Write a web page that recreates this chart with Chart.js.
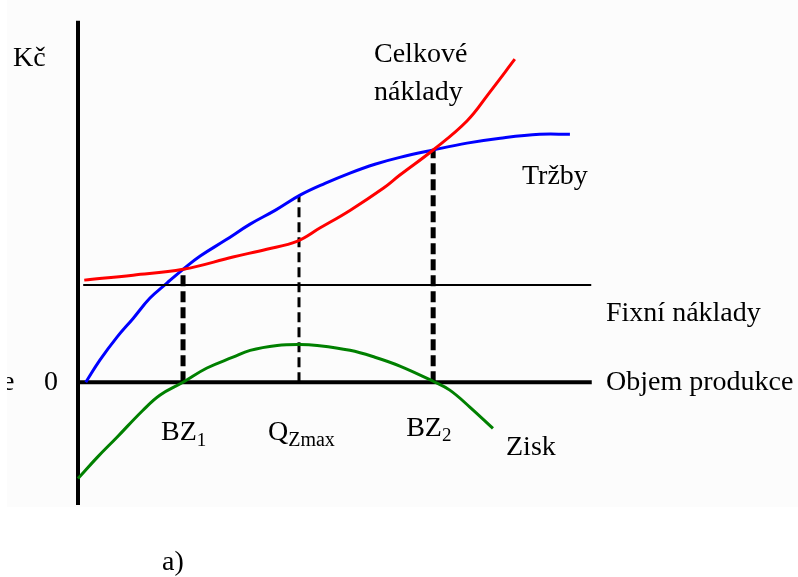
<!DOCTYPE html>
<html>
<head>
<meta charset="utf-8">
<script src="https://cdn.jsdelivr.net/npm/chart.js@4/dist/chart.umd.min.js"></script>
<style>
  html, body { margin: 0; padding: 0; background: #ffffff; }
  #wrap { width: 798px; height: 577px; }
  canvas { display: block; }
</style>
</head>
<body>
<div id="wrap"><canvas id="c" width="798" height="577"></canvas></div>
<script>
// Production volume (x) and amounts in Kč (y) for each curve of the break-even diagram.
const revenueX = [1.5, 4.2, 7.5, 10.6, 13.8, 17.1, 20.2, 23.5, 28.3, 33.1, 37.9, 42.7, 47.5, 52.3, 57.1, 61.9, 68.3, 74.8, 81.2, 88.8, 94.6];
const revenueY = [0, 4.5, 9.2, 13.0, 17.1, 20.2, 23.0, 25.7, 28.9, 32.2, 35.0, 38.1, 40.5, 42.6, 44.4, 45.8, 47.3, 48.7, 49.7, 50.5, 50.5];

const totalCostX = [1.2, 10.6, 20.2, 29.8, 36.3, 42.1, 46.5, 52.3, 58.7, 61.9, 68.3, 74.8, 79.2, 84.0];
const totalCostY = [20.8, 21.8, 23.0, 25.5, 27.1, 28.7, 31.4, 35.0, 39.5, 42.2, 47.3, 53.2, 59.1, 65.8];

const profitX = [0, 3.7, 7.5, 12.5, 15.8, 20.2, 24.8, 29.8, 33.1, 38.3, 42.7, 46.0, 52.3, 57.1, 61.9, 68.3, 71.5, 75.4, 79.8];
const profitY = [-19.6, -15.3, -11.2, -5.7, -2.6, 0, 2.9, 5.1, 6.5, 7.5, 7.7, 7.5, 6.5, 5.1, 3.3, 0.2, -1.6, -5.1, -9.4];

const fixedCostX = [1.0, 98.7];
const fixedCostY = [19.8, 19.8];

// Break-even points and the volume of maximum profit
const breakEven1 = [20.2, 23.0];
const profitMax = [42.5, 38.1];
const breakEven2 = [68.3, 47.3];

// Axis extents
const axisXRange = [0, 98.8];
const axisYRange = [-25, 73.6];

const toPts = (xs, ys) => xs.map((x, i) => ({ x: x, y: ys[i] }));

const SERIF = '"Liberation Serif", "Times New Roman", serif';

const bgPlugin = {
  id: 'paper',
  beforeDraw(chart) {
    const ctx = chart.ctx;
    ctx.save();
    ctx.fillStyle = '#ffffff';
    ctx.fillRect(0, 0, chart.width, chart.height);
    ctx.fillStyle = '#fcfcfc';
    ctx.fillRect(7, 0, chart.width - 7, 507);
    ctx.restore();
  }
};

function drawSub(ctx, main, sub, x, y, mainSize, subSize, subDrop) {
  ctx.font = mainSize + 'px ' + SERIF;
  ctx.fillText(main, x, y);
  const w = ctx.measureText(main).width;
  ctx.font = subSize + 'px ' + SERIF;
  ctx.fillText(sub, x + w, y + subDrop);
}

const labelPlugin = {
  id: 'labels',
  afterDatasetsDraw(chart) {
    const ctx = chart.ctx;
    const xs = chart.scales.x, ys = chart.scales.y;
    const y0 = ys.getPixelForValue(0);
    ctx.save();
    ctx.fillStyle = '#000000';
    ctx.textBaseline = 'alphabetic';
    ctx.textAlign = 'left';
    ctx.font = '28px ' + SERIF;

    ctx.fillText('Kč', 13, 66);
    ctx.fillText('0', 44, y0 + 8);

    // clipped fragment at the left margin
    ctx.save();
    ctx.beginPath();
    ctx.rect(7, 0, 20, chart.height);
    ctx.clip();
    ctx.fillText('e', 2, y0 + 8);
    ctx.restore();

    ctx.fillText('Celkové', 374, 62);
    ctx.fillText('náklady', 374, 100);
    ctx.fillText('Tržby', 522, 184);
    ctx.fillText('Fixní náklady', 606, 321);
    ctx.fillText('Objem produkce', 606, y0 + 8);
    ctx.fillText('Zisk', 506, 455);

    drawSub(ctx, 'BZ', '1', xs.getPixelForValue(breakEven1[0]) - 22, 440, 28, 19, 6);
    drawSub(ctx, 'Q', 'Zmax', xs.getPixelForValue(profitMax[0]) - 31, 440, 28, 20, 6);
    drawSub(ctx, 'BZ', '2', xs.getPixelForValue(breakEven2[0]) - 27, 436, 28, 19, 5);

    ctx.font = '28px ' + SERIF;
    ctx.fillText('a)', 162, 570);
    ctx.restore();
  }
};

const curve = (label, xs, ys, color) => ({
  label: label,
  data: toPts(xs, ys),
  borderColor: color,
  borderWidth: 3,
  pointRadius: 0,
  showLine: true,
  tension: 0.4,
  clip: false
});

const straight = (label, pts, width, dash) => ({
  label: label,
  data: pts,
  borderColor: '#000000',
  borderWidth: width,
  borderDash: dash || [],
  pointRadius: 0,
  showLine: true,
  tension: 0,
  clip: false
});

new Chart(document.getElementById('c'), {
  type: 'scatter',
  data: {
    datasets: [
      straight('Fixní náklady', toPts(fixedCostX, fixedCostY), 2),
      curve('Celkové náklady', totalCostX, totalCostY, '#ff0000'),
      curve('Tržby', revenueX, revenueY, '#0000ff'),
      curve('Zisk', profitX, profitY, '#008000'),
      straight('Objem produkce', [{ x: axisXRange[0], y: 0 }, { x: axisXRange[1], y: 0 }], 4),
      straight('Kč', [{ x: 0, y: axisYRange[0] }, { x: 0, y: axisYRange[1] }], 4),
      straight('BZ1', [{ x: breakEven1[0], y: 0 }, { x: breakEven1[0], y: breakEven1[1] }], 5, [11, 5]),
      straight('QZmax', [{ x: profitMax[0], y: 0 }, { x: profitMax[0], y: profitMax[1] }], 3, [10, 5]),
      straight('BZ2', [{ x: breakEven2[0], y: 0 }, { x: breakEven2[0], y: breakEven2[1] }], 5, [11, 5])
    ]
  },
  options: {
    responsive: false,
    devicePixelRatio: 1,
    animation: false,
    layout: { padding: { left: 78, right: 200, top: 14, bottom: 72 } },
    plugins: { legend: { display: false }, tooltip: { enabled: false } },
    scales: {
      x: { type: 'linear', min: 0, max: 100, display: false },
      y: { type: 'linear', min: -25, max: 75, display: false }
    }
  },
  plugins: [bgPlugin, labelPlugin]
});
</script>
</body>
</html>
